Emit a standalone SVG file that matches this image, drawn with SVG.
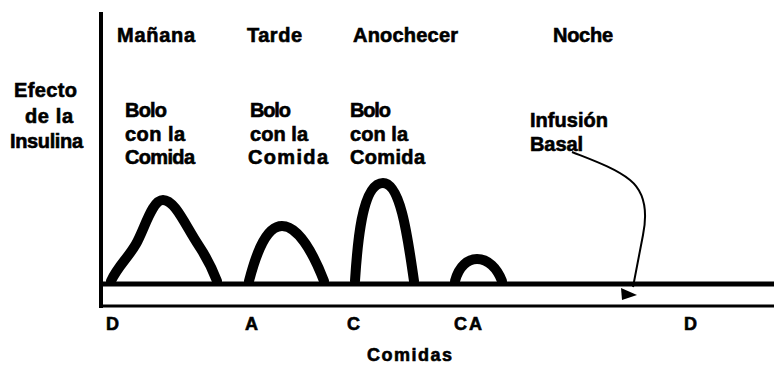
<svg xmlns="http://www.w3.org/2000/svg" width="774" height="365" viewBox="0 0 774 365">
<style>
text{font-family:"Liberation Sans",Arial,sans-serif;font-weight:bold;fill:#000;stroke:#000;stroke-width:0.6}
.t{font-size:20px}
.b{font-size:18px}
.peak{fill:none;stroke:#000;stroke-width:10;stroke-linecap:round;stroke-linejoin:round}
</style>
<rect width="774" height="365" fill="#fff"/>
<g id="axes">
<line x1="101" y1="12" x2="101" y2="308" stroke="#000" stroke-width="4"/>
<line x1="99" y1="284" x2="774" y2="284" stroke="#000" stroke-width="5"/>
<line x1="99" y1="306" x2="774" y2="306" stroke="#000" stroke-width="3"/>
</g>
<g id="peaks">
<path class="peak" d="M111,281 C118,266 128,258 136,244 C145,228 152,200 163,200 C175,200 185,225 199,246 C207,258 212,268 217,281"/>
<path class="peak" d="M249,281 C254,262 264,226 282,226 C297,226 312,250 324,281"/>
<path class="peak" d="M355,281 C357,250 361,183 383,183 C401,183 408,240 414,281"/>
<path class="peak" d="M455,281 C459,266 468,259 477,259 C488,259 497,268 502,281"/>
</g>
<g id="connector">
<path d="M572,152 C592,160 615,168 630,180 C646,193 647,215 643,235 L633,287" fill="none" stroke="#000" stroke-width="2"/>
<polygon points="621,288 622,300 637,295" fill="#000"/>
</g>
<g id="top-labels" class="t">
<text x="117" y="42" textLength="78">Mañana</text>
<text x="247" y="42" textLength="55">Tarde</text>
<text x="353" y="42" textLength="105">Anochecer</text>
<text x="553" y="42" textLength="60">Noche</text>
</g>
<g id="y-label" class="t">
<text x="14" y="97" textLength="63">Efecto</text>
<text x="25" y="123" textLength="48">de la</text>
<text x="10" y="148" textLength="73">Insulina</text>
</g>
<g id="bolo1" class="t">
<text x="125" y="117" textLength="42">Bolo</text>
<text x="125" y="141" textLength="60">con la</text>
<text x="125" y="164" textLength="70">Comida</text>
</g>
<g id="bolo2" class="t">
<text x="250" y="117" textLength="41">Bolo</text>
<text x="250" y="141" textLength="58">con la</text>
<text x="248" y="164" textLength="80">Comida</text>
</g>
<g id="bolo3" class="t">
<text x="350" y="117" textLength="41">Bolo</text>
<text x="350" y="141" textLength="58">con la</text>
<text x="350" y="164" textLength="75">Comida</text>
</g>
<g id="infusion" class="t">
<text x="530" y="127" textLength="78">Infusión</text>
<text x="530" y="151" textLength="53">Basal</text>
</g>
<g id="x-labels" class="b">
<text x="106" y="330">D</text>
<text x="245" y="330">A</text>
<text x="347" y="330">C</text>
<text x="454" y="330" textLength="28">CA</text>
<text x="684" y="330">D</text>
<text x="367" y="361" textLength="85">Comidas</text>
</g>
</svg>
